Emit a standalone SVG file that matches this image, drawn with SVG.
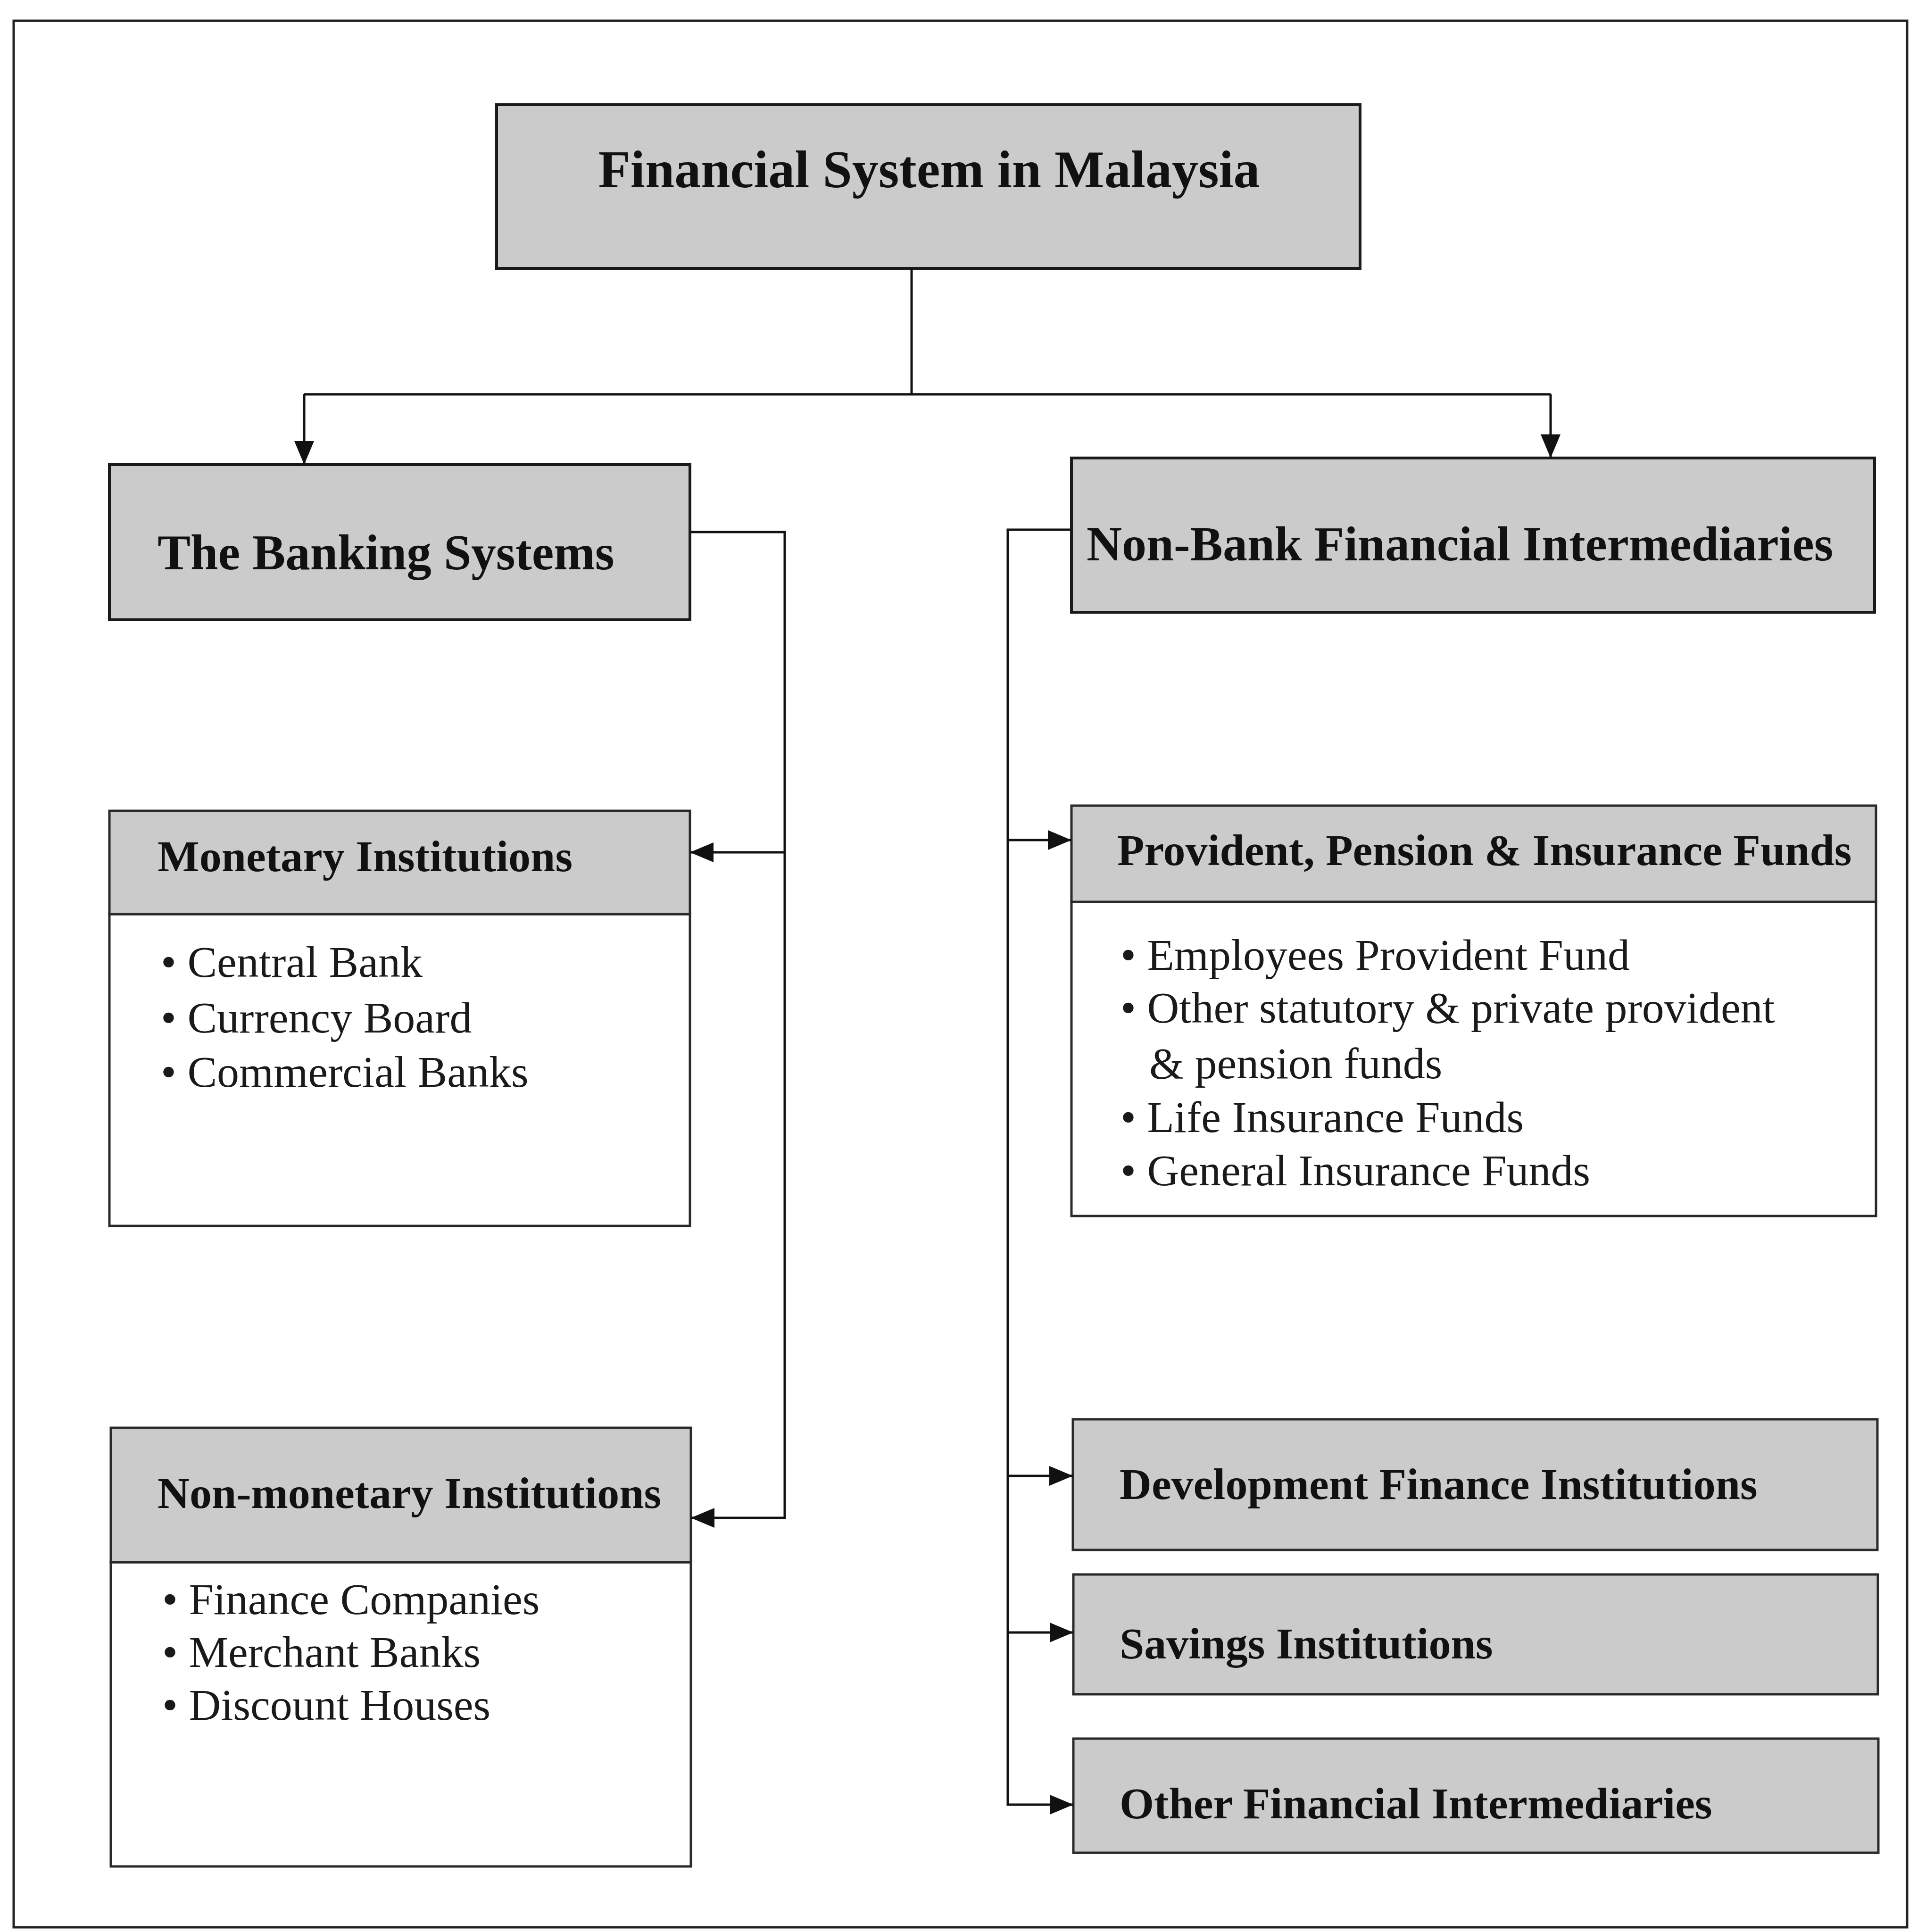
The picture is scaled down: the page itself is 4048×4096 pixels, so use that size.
<svg xmlns="http://www.w3.org/2000/svg" width="4048" height="4096" viewBox="0 0 4048 4096">
  <defs>
    <marker id="arrow" markerUnits="userSpaceOnUse" markerWidth="50" markerHeight="42" refX="50" refY="21" orient="auto">
      <path d="M0,0 L50,21 L0,42 z" fill="#111"/>
    </marker>
  </defs>
  <style>
    .frame { fill: #fff; stroke: #222; stroke-width: 5; }
    .head { fill: #cbcbcb; stroke: #1a1a1a; stroke-width: 6; }
    .sub { fill: #cbcbcb; stroke: #2a2a2a; stroke-width: 5; }
    .body { fill: #fff; stroke: #2a2a2a; stroke-width: 5; }
    .conn { fill: none; stroke: #111; stroke-width: 5; }
    .title { font-family: "Liberation Serif", "Times New Roman", serif; font-weight: bold; fill: #111; }
    .item { font-family: "Liberation Serif", "Times New Roman", serif; font-size: 94px; fill: #1a1a1a; }
  </style>

  <!-- outer frame -->
  <rect class="frame" x="29" y="44" width="4015" height="4042"/>

  <!-- root -->
  <g id="financial-system">
    <rect class="head" x="1053" y="222" width="1831" height="347"/>
    <text class="title" x="1970" y="397" font-size="112" text-anchor="middle">Financial System in Malaysia</text>
  </g>

  <!-- left branch -->
  <g id="banking-systems">
    <rect class="head" x="232" y="985" width="1231" height="329"/>
    <text class="title" x="334" y="1207" font-size="105">The Banking Systems</text>
  </g>

  <g id="monetary-institutions">
    <rect class="body" x="232" y="1938" width="1231" height="661"/>
    <rect class="sub" x="232" y="1719" width="1231" height="219"/>
    <text class="title" x="334" y="1847" font-size="94">Monetary Institutions</text>
    <text class="item" x="341" y="2071">• Central Bank</text>
    <text class="item" x="341" y="2189">• Currency Board</text>
    <text class="item" x="341" y="2304">• Commercial Banks</text>
  </g>

  <g id="non-monetary-institutions">
    <rect class="body" x="235" y="3312" width="1230" height="645"/>
    <rect class="sub" x="235" y="3027" width="1230" height="285"/>
    <text class="title" x="334" y="3197" font-size="94">Non-monetary Institutions</text>
    <text class="item" x="344" y="3422">• Finance Companies</text>
    <text class="item" x="344" y="3534">• Merchant Banks</text>
    <text class="item" x="344" y="3646">• Discount Houses</text>
  </g>

  <!-- right branch -->
  <g id="non-bank-fi">
    <rect class="head" x="2272" y="971" width="1703" height="327"/>
    <text class="title" x="2304" y="1188" font-size="104">Non-Bank Financial Intermediaries</text>
  </g>

  <g id="provident-pension-insurance">
    <rect class="body" x="2272" y="1912" width="1706" height="666"/>
    <rect class="sub" x="2272" y="1708" width="1706" height="204"/>
    <text class="title" x="2369" y="1834" font-size="94">Provident, Pension &amp; Insurance Funds</text>
    <text class="item" x="2376" y="2056">• Employees Provident Fund</text>
    <text class="item" x="2376" y="2168">• Other statutory &amp; private provident</text>
    <text class="item" x="2437" y="2286">&amp; pension funds</text>
    <text class="item" x="2376" y="2400">• Life Insurance Funds</text>
    <text class="item" x="2376" y="2513">• General Insurance Funds</text>
  </g>

  <g id="development-finance">
    <rect class="sub" x="2275" y="3009" width="1706" height="277"/>
    <text class="title" x="2374" y="3178" font-size="94">Development Finance Institutions</text>
  </g>

  <g id="savings-institutions">
    <rect class="sub" x="2276" y="3338" width="1706" height="254"/>
    <text class="title" x="2374" y="3516" font-size="94">Savings Institutions</text>
  </g>

  <g id="other-fi">
    <rect class="sub" x="2276" y="3686" width="1707" height="242"/>
    <text class="title" x="2374" y="3855" font-size="94">Other Financial Intermediaries</text>
  </g>

  <!-- connectors -->
  <g id="connectors">
    <path class="conn" d="M1933,569 V836"/>
    <path class="conn" d="M645,836 H3288"/>
    <path class="conn" d="M645,836 V985" marker-end="url(#arrow)"/>
    <path class="conn" d="M3288,836 V971" marker-end="url(#arrow)"/>

    <path class="conn" d="M1463,1128 H1664 V3218 H1465" marker-end="url(#arrow)"/>
    <path class="conn" d="M1664,1807 H1463" marker-end="url(#arrow)"/>

    <path class="conn" d="M2272,1123 H2137 V3826 H2276" marker-end="url(#arrow)"/>
    <path class="conn" d="M2137,1781 H2272" marker-end="url(#arrow)"/>
    <path class="conn" d="M2137,3129 H2275" marker-end="url(#arrow)"/>
    <path class="conn" d="M2137,3461 H2276" marker-end="url(#arrow)"/>
  </g>
</svg>
